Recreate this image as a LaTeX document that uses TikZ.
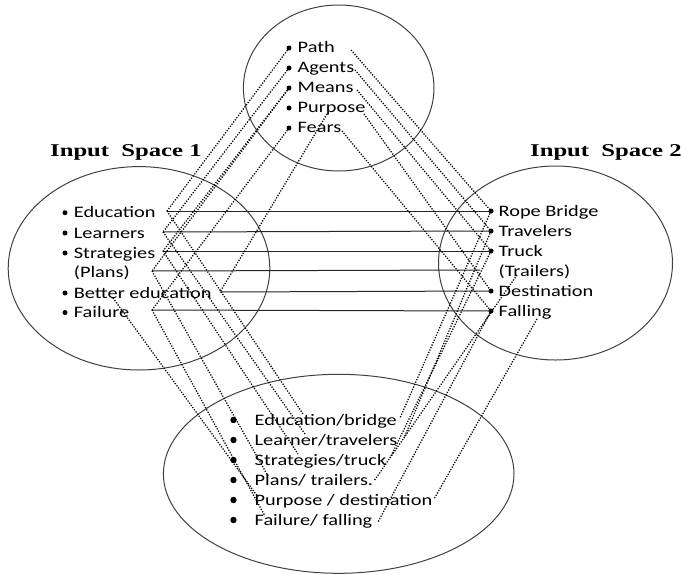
\documentclass[tikz,border=0pt]{standalone}
\usepackage{fontspec}
\setmainfont{Carlito}[FakeStretch=1.27]
\newfontfamily\titlefont{Liberation Serif}[FakeStretch=1.37]
\begin{document}
\begin{tikzpicture}[x=1pt,y=-1pt,
  ring/.style={draw=black!75, line width=1pt},
  item/.style={anchor=base west, inner sep=0pt, font=\fontsize{16}{19}\selectfont, text=black},
  dot/.style={circle, fill=black, inner sep=0pt, minimum size=5pt},
  bigdot/.style={circle, fill=black, inner sep=0pt, minimum size=6.4pt},
  title/.style={anchor=base west, inner sep=0pt, font=\titlefont\bfseries\fontsize{18}{20}\selectfont},
  link/.style={draw=black!85, line width=1pt},
  dotlink/.style={draw=black, line width=1.3pt, dash pattern=on 1.2pt off 1.5pt}]
\useasboundingbox (0,0) rectangle (681,574);

% spaces
\draw[ring] (338.7,88) ellipse [x radius=95.3, y radius=83];
\draw[ring] (139,268.3) ellipse [x radius=130.8, y radius=101.7];
\draw[ring] (555.5,263) ellipse [x radius=117, y radius=97];
\draw[ring] (338.7,473.8) ellipse [x radius=175.3, y radius=99.5];

% titles
\node[title] (t1) at (50,156) {Input\ \ Space 1};
\node[title] (t2) at (530,156) {Input\ \ Space 2};

% generic space
\node[dot] (gP) at (289,48) {};
\node[dot] (gA) at (289,68) {};
\node[dot] (gM) at (289,88) {};
\node[dot] (gU) at (289,108) {};
\node[dot] (gF) at (289,128) {};
\node[item] (tP) at (297.5,52.5) {Path};
\node[item] (tA) at (297.5,72.5) {Agents};
\node[item] (tM) at (297.5,92.5) {Means};
\node[item] (tU) at (297.5,112.5) {Purpose};
\node[item] (tF) at (297.5,132.5) {Fears};
\coordinate (gUl) at (327,114);
\coordinate (gPr) at (351,50);
\coordinate (gAr) at (355,70);
\coordinate (gMr) at (357,90);
\coordinate (gUr) at (364,114);
\coordinate (gFr) at (342,131);

% input space 1
\node[dot] (lE) at (65,212.7) {};
\node[dot] (lL) at (65,233) {};
\node[dot] (lS) at (65,253) {};
\node[dot] (lB) at (65,293) {};
\node[dot] (lF) at (65,312.5) {};
\node[item] (xE) at (73.7,217.5) {Education};
\node[item] (xL) at (73.7,238) {Learners};
\node[item] (xS) at (73.7,258) {Strategies};
\node[item] (xP) at (73.7,277.5) {(Plans)};
\node[item] (xB) at (73.7,298) {Better education};
\node[item] (xF) at (73.7,317.5) {Failure};
\coordinate (eR) at (167,211);
\coordinate (lR) at (163,232);
\coordinate (sR) at (163,251);
\coordinate (pL) at (152,271);
\coordinate (bR) at (220,292);
\coordinate (bD) at (113,298);
\coordinate (fL) at (152,310);

% input space 2
\node[dot] (rB) at (491,211) {};
\node[dot] (rT) at (491,231) {};
\node[dot] (rK) at (491,251) {};
\node[dot] (rD) at (491,291) {};
\node[dot] (rF) at (491,311) {};
\node[item] (yB) at (498.5,216) {Rope Bridge};
\node[item] (yT) at (498.5,236) {Travelers};
\node[item] (yK) at (498.5,256) {Truck};
\node[item] (yR) at (498.5,276) {(Trailers)};
\node[item] (yD) at (498.5,296) {Destination};
\node[item] (yF) at (498.5,316) {Falling};
\coordinate (pR) at (480,270);
\coordinate (rTl) at (517,275);
\coordinate (rFl) at (537,319);

% blend
\foreach \i/\yy in {1/420,2/440,3/460,4/480,5/500,6/520}
  \node[bigdot] (bd\i) at (233.5,\yy) {};
\node[item] (b1) at (254.5,425) {Education/bridge};
\node[item] (b2) at (254.5,445) {Learner/travelers};
\node[item] (b3) at (254.5,465) {Strategies/truck};
\node[item] (b4) at (254.5,485) {Plans/ trailers.};
\node[item] (b5) at (254.5,505) {Purpose / destination};
\node[item] (b6) at (254.5,525) {Failure/ falling};
\coordinate (m1) at (303,414);
\coordinate (m2) at (305,434);
\coordinate (m3) at (298,454);
\coordinate (m4) at (268,476);
\coordinate (m5) at (258,497);
\coordinate (m6) at (265,516);
\coordinate (n1) at (400,418);
\coordinate (n2) at (404,438);
\coordinate (n3) at (390,458);
\coordinate (n4) at (374,481);
\coordinate (n5) at (434,499);
\coordinate (n6) at (378,522);

% solid cross-space mappings
\draw[link] (eR) -- (rB.center);
\draw[link] (lR) -- (rT.center);
\draw[link] (sR) -- (rK.center);
\draw[link] (pL) -- (pR);
\draw[link] (bR) -- (rD.center);
\draw[link] (fL) -- (rF.center);

% generic to input 1
\draw[dotlink] (gP.center) -- (eR);
\draw[dotlink] (gA.center) -- (lR);
\draw[dotlink] (gM.center) -- (sR);
\draw[dotlink] (gM.center) -- (pL);
\draw[dotlink] (gUl) -- (bR);
\draw[dotlink] (gF.center) -- (fL);
% generic to input 2
\draw[dotlink] (gPr) -- (rB.center);
\draw[dotlink] (gAr) -- (rT.center);
\draw[dotlink] (gMr) -- (rK.center);
\draw[dotlink] (gUr) -- (rD.center);
\draw[dotlink] (gFr) -- (rF.center);
% input 1 to blend
\draw[dotlink] (eR) -- (m1);
\draw[dotlink] (lR) -- (m2);
\draw[dotlink] (sR) -- (m3);
\draw[dotlink] (pL) -- (m4);
\draw[dotlink] (bD) -- (m5);
\draw[dotlink] (fL) -- (m6);
% input 2 to blend
\draw[dotlink] (rB.center) -- (n1);
\draw[dotlink] (rT.center) -- (n2);
\draw[dotlink] (rK.center) -- (n3);
\draw[dotlink] (rTl) -- (n4);
\draw[dotlink] (rFl) -- (n5);
\draw[dotlink] (rF.center) -- (n6);
\end{tikzpicture}
\end{document}
